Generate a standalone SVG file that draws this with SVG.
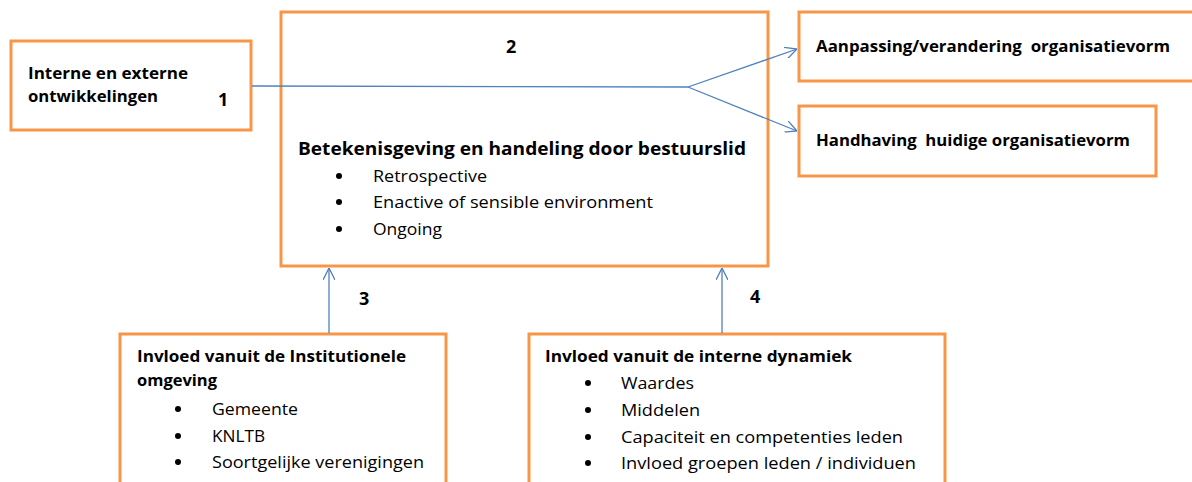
<svg xmlns="http://www.w3.org/2000/svg" width="1192" height="482" viewBox="0 0 1192 482">
<style>
.box{fill:#fff;stroke:#F79646;stroke-width:3}
.b{font-family:"Open Sans","Liberation Sans",sans-serif;font-weight:bold;font-size:16px;fill:#000;white-space:pre}
.r{font-family:"Open Sans","Liberation Sans",sans-serif;font-size:16px;fill:#000}
.big{font-size:18px}
.dot{fill:#000}
.con{fill:none;stroke:#4F81BD;stroke-width:1.3}
</style>
<defs>
<marker id="arr" viewBox="0 0 12 12" refX="12" refY="6" markerWidth="12" markerHeight="12" markerUnits="userSpaceOnUse" orient="auto">
<path d="M0,0 L12,6 L0,12" fill="none" stroke="#4F81BD" stroke-width="1.3"/>
</marker>
</defs>
<rect width="1192" height="482" fill="#fff"/>
<g id="node1">
<rect class="box" x="11" y="41" width="240" height="89"/>
<text class="b" x="28" y="79" textLength="160" lengthAdjust="spacingAndGlyphs">Interne en externe</text>
<text class="b" x="28" y="102" textLength="130" lengthAdjust="spacingAndGlyphs">ontwikkelingen</text>
<text class="b big" x="218" y="106">1</text>
</g>
<g id="node2">
<rect class="box" x="281" y="12" width="487" height="254"/>
<text class="b big" x="506" y="53">2</text>
<text class="b big" x="298" y="155" textLength="448" lengthAdjust="spacingAndGlyphs">Betekenisgeving en handeling door bestuurslid</text>
<circle class="dot" cx="339" cy="176" r="3"/>
<circle class="dot" cx="339" cy="202" r="3"/>
<circle class="dot" cx="339" cy="229" r="3"/>
<text class="r" x="373" y="182" textLength="114" lengthAdjust="spacingAndGlyphs">Retrospective</text>
<text class="r" x="373" y="208" textLength="280" lengthAdjust="spacingAndGlyphs">Enactive of sensible environment</text>
<text class="r" x="373" y="235" textLength="69" lengthAdjust="spacingAndGlyphs">Ongoing</text>
</g>
<g id="nodeA">
<rect class="box" x="799" y="12" width="395" height="69"/>
<text class="b" x="816" y="52" textLength="354" lengthAdjust="spacingAndGlyphs" xml:space="preserve">Aanpassing/verandering  organisatievorm</text>
</g>
<g id="nodeH">
<rect class="box" x="799" y="106" width="357" height="70"/>
<text class="b" x="816" y="146" textLength="314" lengthAdjust="spacingAndGlyphs" xml:space="preserve">Handhaving  huidige organisatievorm</text>
</g>
<g id="node3">
<rect class="box" x="120" y="334" width="326" height="160"/>
<text class="b" x="137" y="362" textLength="269" lengthAdjust="spacingAndGlyphs">Invloed vanuit de Institutionele</text>
<text class="b" x="137" y="386" textLength="80" lengthAdjust="spacingAndGlyphs">omgeving</text>
<circle class="dot" cx="178" cy="409" r="3"/>
<circle class="dot" cx="178" cy="436" r="3"/>
<circle class="dot" cx="178" cy="462" r="3"/>
<text class="r" x="212" y="415" textLength="86" lengthAdjust="spacingAndGlyphs">Gemeente</text>
<text class="r" x="212" y="442" textLength="53" lengthAdjust="spacingAndGlyphs">KNLTB</text>
<text class="r" x="212" y="468" textLength="212" lengthAdjust="spacingAndGlyphs">Soortgelijke verenigingen</text>
<text class="b big" x="359" y="305">3</text>
</g>
<g id="node4">
<rect class="box" x="529" y="334" width="416" height="160"/>
<text class="b" x="545" y="362" textLength="307" lengthAdjust="spacingAndGlyphs">Invloed vanuit de interne dynamiek</text>
<circle class="dot" cx="588" cy="383" r="3"/>
<circle class="dot" cx="588" cy="410" r="3"/>
<circle class="dot" cx="588" cy="437" r="3"/>
<circle class="dot" cx="588" cy="463" r="3"/>
<text class="r" x="621" y="389" textLength="73" lengthAdjust="spacingAndGlyphs">Waardes</text>
<text class="r" x="621" y="416" textLength="79" lengthAdjust="spacingAndGlyphs">Middelen</text>
<text class="r" x="621" y="443" textLength="282" lengthAdjust="spacingAndGlyphs">Capaciteit en competenties leden</text>
<text class="r" x="621" y="469" textLength="295" lengthAdjust="spacingAndGlyphs">Invloed groepen leden / individuen</text>
<text class="b big" x="750" y="303">4</text>
</g>
<g id="connectors">
<path class="con" d="M252,86 L688,87"/>
<path class="con" d="M688,87 L797,49" marker-end="url(#arr)"/>
<path class="con" d="M688,87 L797,131" marker-end="url(#arr)"/>
<path class="con" d="M329,333 L329,268" marker-end="url(#arr)"/>
<path class="con" d="M722,333 L722,268" marker-end="url(#arr)"/>
</g>
</svg>
